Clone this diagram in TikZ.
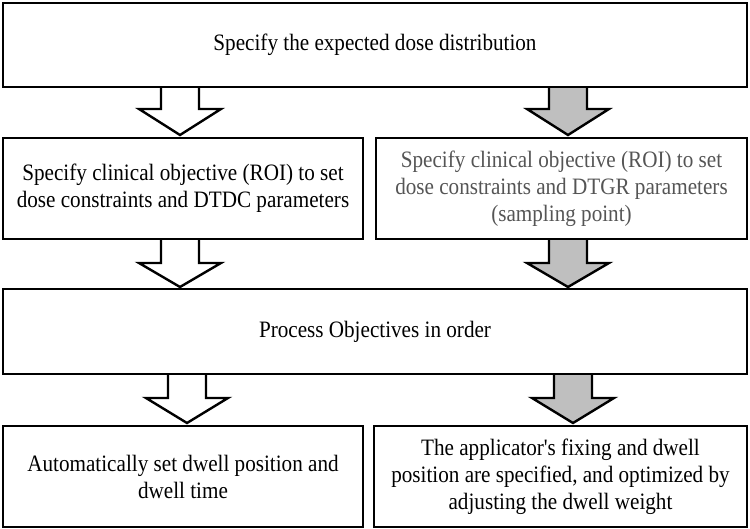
\documentclass[tikz,border=0pt]{standalone}
\usepackage{fontspec}
\setmainfont{Liberation Serif}[Ligatures=TeXOff,FakeStretch=0.9]
\definecolor{arrowgray}{RGB}{191,191,191}
\definecolor{txtgray}{RGB}{85,85,85}
\newcommand\blockarrow[5]{%
  \draw[#1] (#2-19,-#3) -- (#2-19,-#4) -- (#2-41,-#4) -- (#2,-#5) -- (#2+41,-#4) -- (#2+19,-#4) -- (#2+19,-#3);}
\begin{document}
\begin{tikzpicture}[x=1pt,y=1pt,
  box/.style={draw=black,line width=2.4pt,fill=white,inner sep=0pt,align=center,
    font=\fontsize{23.5}{27}\selectfont},
  wharrow/.style={draw=black,line width=2.4pt,fill=white,line join=miter},
  grarrow/.style={draw=black,line width=2.4pt,fill=arrowgray,line join=miter}]
\useasboundingbox (0,0) rectangle (750,-529);
% arrows
\blockarrow{wharrow}{180}{87}{109}{135}
\blockarrow{grarrow}{568}{87}{109}{135}
\blockarrow{wharrow}{180}{239}{263}{287}
\blockarrow{grarrow}{568}{239}{263}{287}
\blockarrow{wharrow}{187}{374}{398}{423}
\blockarrow{grarrow}{573}{374}{398}{423}
% boxes
\node[box,minimum width=744pt,minimum height=84pt] (b1) at (375,-45) {Specify the expected dose distribution};
\node[box,minimum width=360pt,minimum height=101pt] (b2l) at (183,-188.5)
  {Specify clinical objective (ROI) to set\\dose constraints and DTDC parameters};
\node[box,minimum width=371pt,minimum height=101pt,text=txtgray] (b2r) at (561.5,-188.5)
  {Specify clinical objective (ROI) to set\\dose constraints and DTGR parameters\\(sampling point)};
\node[box,minimum width=744pt,minimum height=85pt] (b3) at (375,-331.5) {Process Objectives in order};
\node[box,minimum width=360pt,minimum height=101pt] (b4l) at (183,-476.5)
  {Automatically set dwell position and\\dwell time};
\node[box,minimum width=373pt,minimum height=101pt] (b4r) at (560.5,-476.5)
  {The applicator's fixing and dwell\\position are specified, and optimized by\\adjusting the dwell weight};
\end{tikzpicture}
\end{document}
